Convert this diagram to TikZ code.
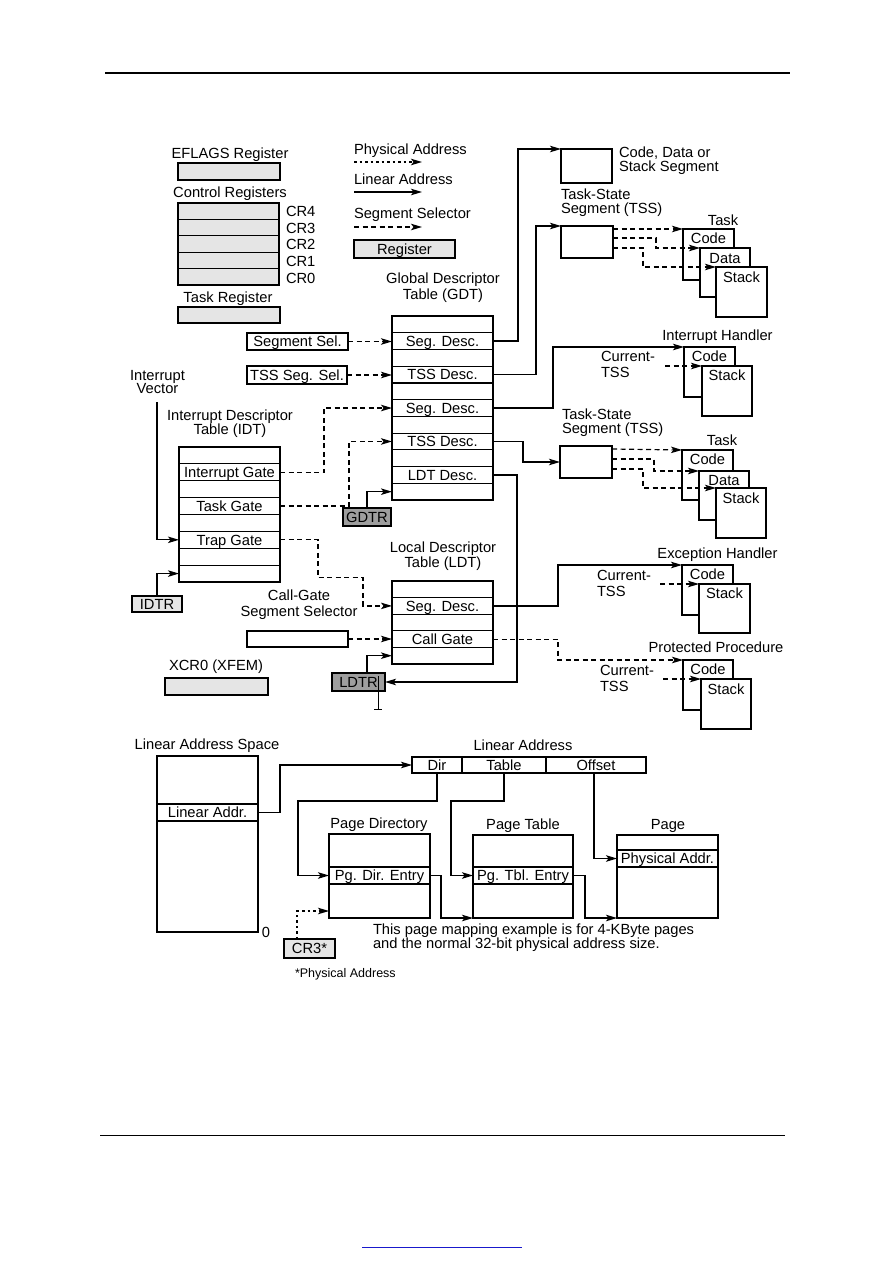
\documentclass[tikz,border=0pt]{standalone}
\usepackage{fontspec}
\setmainfont{Liberation Sans}
\usetikzlibrary{arrows.meta,calc}
\definecolor{regfill}{gray}{0.9}
\definecolor{darkfill}{gray}{0.62}
\definecolor{linkblue}{rgb}{0.1,0.1,0.8}
\newcommand\dgfont{\fontsize{14.7}{15}\selectfont}
\newcommand\dgsmall{\fontsize{12.5}{13}\selectfont}
\newcommand\rbox[6][]{\node[box,#1,minimum width={(#4)-(#2)},minimum height={(#5)-(#3)}] (#6) at ({((#2)+(#4))/2},{((#3)+(#5))/2})}
\tikzset{
  txt/.style={inner sep=0pt, outer sep=0pt, text height=10.4pt, text depth=0pt, font=\dgfont},
  box/.style={draw, line width=1.2pt, inner sep=0pt, outer sep=0pt, fill=white, text height=10.4pt, text depth=0pt, font=\dgfont},
  lin/.style={line width=1.2pt, -{Stealth[length=11pt,width=6.5pt,inset=2.5pt]}},
  seg/.style={lin, dash pattern=on 5pt off 3.5pt},
  phys/.style={lin, line width=1.4pt, dash pattern=on 2.5pt off 3pt},
}
\begin{document}
\begin{tikzpicture}[x=1pt,y=-1pt]
\useasboundingbox[fill=white] (0,0) rectangle (893,1263);
% page rules
\draw[line width=2.4pt] (105,73) -- (790,73);
\draw[line width=1pt] (100,1135) -- (785,1135);
\draw[line width=1pt, linkblue] (362,1247) -- (522,1247);

% ---------------- registers
\node[txt] (eflt) at (230,153) {EFLAGS Register};
\rbox[fill=regfill]{178}{163}{280}{180}{eflags}{};
\node[txt] (ctrlt) at (230,192) {Control Registers};
\foreach \i/\n in {0/4,1/3,2/2,3/1,4/0} {
  \node[box, fill=regfill, minimum width=101, minimum height=16.4] (cr\n) at (228.5,{211.2+16.4*\i}) {};
  \node[txt, anchor=west] (crl\n) at (286,{211.2+16.7*\i}) {CR\n};
}
\node[txt] (taskt) at (228,297) {Task Register};
\rbox[fill=regfill]{178}{307}{280}{323}{taskreg}{};

% ---------------- legend
\node[txt,anchor=west] (lg1) at (354,149) {Physical Address};
\coordinate (lg1a) at (354,162); \coordinate (lg1b) at (422,162);
\draw[phys] (lg1a) -- (lg1b);
\node[txt,anchor=west] (lg2) at (354,179) {Linear Address};
\coordinate (lg2a) at (354,192); \coordinate (lg2b) at (422,192);
\draw[lin] (lg2a) -- (lg2b);
\node[txt,anchor=west] (lg3) at (354,213) {Segment Selector};
\coordinate (lg3a) at (354,227); \coordinate (lg3b) at (422,227);
\draw[seg] (lg3a) -- (lg3b);
\rbox[fill=regfill]{354}{240}{455}{258}{lgreg}{Register};

% ---------------- code/data/stack segment
\rbox{561}{149}{612}{183}{cds}{};
\node[txt,anchor=west,align=left] (cdst) at (619,166) {Code, Data or\\[-1pt]Stack Segment};

% ---------------- TSS 1 and task
\node[txt,anchor=west,align=left] (tss1t) at (561,208) {Task-State\\[-1pt]Segment (TSS)};
\rbox{561}{226}{613}{258}{tss1}{};
\node[txt] (task1t) at (723,220) {Task};
\rbox{683}{229}{734}{280}{code1}{};
\node[txt] (code1t) at ($(code1.north)+(0,9.5)$) {Code};
\rbox{700}{248}{750}{297}{data1}{};
\node[txt] (data1t) at ($(data1.north)+(0,10)$) {Data};
\rbox{716}{267}{767}{317}{stack1}{};
\node[txt] (stack1t) at ($(stack1.north)+(0,10)$) {Stack};
\draw[seg] ($(tss1.north east)+(0,3)$) -- (code1.north west);
\draw[seg] ($(tss1.north east)+(0,12)$) -- ++(43,0) |- (data1.north west);
\draw[seg] ($(tss1.north east)+(0,22)$) -- ++(30,0) |- (stack1.north west);

% ---------------- GDT
\node[txt,align=center] (gdtt) at (443,294.5) {Global Descriptor\\[1pt]Table (GDT)};
\foreach \i/\t in {0/{},1/{Seg. Desc.},2/{},3/{TSS Desc.},4/{},5/{Seg. Desc.},6/{},7/{TSS Desc.},8/{},9/{LDT Desc.},10/{}}
  \node[box, minimum width=101, minimum height=16.73] (gdt\i) at (442.5,{324.365+16.73*\i}) {\t};
\rbox{247}{333}{348}{350}{segsel}{Segment Sel.};
\rbox{247}{366}{347}{384}{tsssel}{TSS Seg. Sel.};
\draw[seg] (segsel.east) -- (segsel.east -| gdt1.west);
\draw[seg] (tsssel.east) -- (tsssel.east -| gdt3.west);
\rbox[fill=darkfill]{343}{508}{391}{526}{gdtr}{GDTR};
\draw[lin] (gdtr.north) |- (gdt10.west);

% ---------------- Interrupt handler
\node[txt] (iht) at (717.5,335) {Interrupt Handler};
\rbox{684}{347}{735}{397}{ihcode}{};
\node[txt] (ihcodet) at ($(ihcode.north)+(0,9.5)$) {Code};
\rbox{702}{366}{752}{416}{ihstack}{};
\node[txt] (ihstackt) at ($(ihstack.north)+(0,9.5)$) {Stack};
\node[txt,anchor=west,align=left] (ihcur) at (601,372) {Current-\\[1pt]TSS};
\coordinate (ihcs) at (665,366);
\draw[seg] (ihcs) -- (ihstack.north west);

% ---------------- TSS 2 and task
\node[txt,anchor=west,align=left] (tss2t) at (562,428.5) {Task-State\\[-1pt]Segment (TSS)};
\rbox{560}{446}{612}{478}{tss2}{};
\node[txt] (task2t) at (722,440) {Task};
\rbox{682}{450}{733}{500}{code2}{};
\node[txt] (code2t) at ($(code2.north)+(0,9.5)$) {Code};
\rbox{699}{471}{749}{520}{data2}{};
\node[txt] (data2t) at ($(data2.north)+(0,9.5)$) {Data};
\rbox{716}{488}{766}{538}{stack2}{};
\node[txt] (stack2t) at ($(stack2.north)+(0,10)$) {Stack};
\draw[seg] ($(tss2.north east)+(0,3)$) -- (code2.north west);
\draw[seg] ($(tss2.north east)+(0,13)$) -- ++(42,0) |- (data2.north west);
\draw[seg] ($(tss2.north east)+(0,23)$) -- ++(31,0) |- (stack2.north west);

% ---------------- IDT
\node[txt,align=center] (ivt) at (157.5,388.5) {Interrupt\\[-2pt]Vector};
\node[txt,align=center] (idtt) at (230,429) {Interrupt Descriptor\\[-1pt]Table (IDT)};
\foreach \i/\t in {0/{},1/{Interrupt Gate},2/{},3/{Task Gate},4/{},5/{Trap Gate},6/{},7/{}}
  \node[box, minimum width=101, minimum height=16.875] (idt\i) at (229.5,{455.44+16.875*\i}) {\t};
\coordinate (ivs) at (157,402);
\draw[lin] (ivs) |- (idt5.west);
\rbox[fill=regfill]{132}{596}{182}{612}{idtr}{IDTR};
\draw[lin] (idtr.north) |- (idt7.west);

% ---------------- LDT
\node[txt,align=center] (ldtt) at (443,562.5) {Local Descriptor\\Table (LDT)};
\foreach \i/\t in {0/{},1/{Seg. Desc.},2/{},3/{Call Gate},4/{}}
  \node[box, minimum width=101, minimum height=16.6] (ldt\i) at (442.5,{589.3+16.6*\i}) {\t};
\node[txt,align=center] (cgst) at (299,611) {Call-Gate\\[1pt]Segment Selector};
\rbox{247}{631}{348}{647}{cgsel}{};
\draw[seg] (cgsel.east) -- (cgsel.east -| ldt3.west);
\rbox[fill=darkfill]{332}{673}{385}{691}{ldtr}{LDTR};
\draw[lin] ($(ldtr.north west)+(35,0)$) |- (ldt4.west);
\draw[line width=0.6pt] (378,676) -- (378,709) (374,709) -- (382,709);

% ---------------- XCR0
\node[txt] (xcrt) at (216,665) {XCR0 (XFEM)};
\rbox[fill=regfill]{165}{678}{268}{695}{xcr0}{};

% ---------------- exception handler
\node[txt] (eht) at (717.5,553) {Exception Handler};
\rbox{682}{565}{733}{615}{ehcode}{};
\node[txt] (ehcodet) at ($(ehcode.north)+(0,9.5)$) {Code};
\rbox{699}{584}{750}{633}{ehstack}{};
\node[txt] (ehstackt) at ($(ehstack.north)+(0,9.5)$) {Stack};
\node[txt,anchor=west,align=left] (ehcur) at (597,591) {Current-\\[1pt]TSS};
\coordinate (ehcs) at (660,584);
\draw[seg] (ehcs) -- (ehstack.north west);

% ---------------- protected procedure
\node[txt] (ppt) at (716,647) {Protected Procedure};
\rbox{683}{660}{733}{710}{ppcode}{};
\node[txt] (ppcodet) at ($(ppcode.north)+(0,9.5)$) {Code};
\rbox{701}{679}{751}{729}{ppstack}{};
\node[txt] (ppstackt) at ($(ppstack.north)+(0,10)$) {Stack};
\node[txt,anchor=west,align=left] (ppcur) at (600,686) {Current-\\[1pt]TSS};
\coordinate (ppcs) at (663,679);
\draw[seg] (ppcs) -- (ppstack.north west);

% ---------------- connectors of descriptor tables
\draw[lin] (gdt1.east) -- ++(25,0) |- (cds.north west);
\draw[lin] (gdt3.east) -- ++(43,0) |- (tss1.north west);
\draw[lin] (gdt5.east) -- ++(60,0) |- (ihcode.north west);
\draw[lin] (gdt7.east) -- ++(30,0) |- (tss2.west);
\draw[lin] (gdt9.east) -- ++(24,0) |- (ldtr.east);
\draw[seg] (idt1.east) -- ++(44,0) |- (gdt5.west);
\draw[seg] (idt3.east) -- ++(69,0) |- (gdt7.west);
\draw[seg] (idt5.east) -- ++(38,0) -- ++(0,38) -- ++(45,0) |- (ldt1.west);
\draw[lin] (ldt1.east) -- ++(65,0) |- (ehcode.north west);
\draw[seg] (ldt3.east) -- ++(65,0) |- (ppcode.north west);

% ---------------- paging
\node[txt] (last) at (207,744) {Linear Address Space};
\rbox{157}{756}{258}{804}{lastop}{};
\rbox{157}{804}{258}{821}{lasrow}{Linear Addr.};
\rbox{157}{821}{258}{932}{lasbot}{};
\node[txt] (zero) at (266,932) {0};

\node[txt] (lat) at (523,745) {Linear Address};
\rbox{412}{757}{462}{773}{dir}{Dir};
\rbox{462}{757}{546}{773}{tbl}{Table};
\rbox{546}{757}{646}{773}{ofs}{Offset};

\node[txt] (pdt) at (379,823) {Page Directory};
\rbox{329}{834}{430}{867}{pdtop}{};
\rbox{329}{867}{430}{884}{pde}{Pg. Dir. Entry};
\rbox{329}{884}{430}{918}{pdbot}{};

\node[txt] (ptt) at (523,824) {Page Table};
\rbox{473}{835}{573}{867}{pttop}{};
\rbox{473}{867}{573}{884}{pte}{Pg. Tbl. Entry};
\rbox{473}{884}{573}{918}{ptbot}{};

\node[txt] (pgt) at (668,824) {Page};
\rbox{617}{835}{718}{850}{pgtop}{};
\rbox{617}{850}{718}{867}{pa}{Physical Addr.};
\rbox{617}{867}{718}{918}{pgbot}{};

\draw[lin] (lasrow.east) -- ++(22,0) |- (dir.west);
\draw[lin] (dir.south) -- ++(0,28) -| ($(pde.west)+(-31,0)$) -- (pde.west);
\draw[lin] (tbl.south) -- ++(0,28) -| ($(pte.west)+(-22,0)$) -- (pte.west);
\draw[lin] ($(ofs.south)+(-2,0)$) |- (pa.west);
\draw[lin] (pde.east) -- ++(11,0) |- (ptbot.south west);
\draw[lin] (pte.east) -- ++(12,0) |- (pgbot.south west);

\rbox[fill=regfill]{284}{939}{335}{958}{cr3}{CR3*};
\draw[phys] ($(cr3.north west)+(13,0)$) |- ($(pdbot.west)+(0,10)$);
\node[txt,anchor=west,font=\dgsmall,text height=9pt] (physnote) at (295,973) {*Physical Address};
\node[txt,anchor=west,align=left] (note) at (373,943) {This page mapping example is for 4-KByte pages\\[-1pt]and the normal 32-bit physical address size.};
\end{tikzpicture}
\end{document}
